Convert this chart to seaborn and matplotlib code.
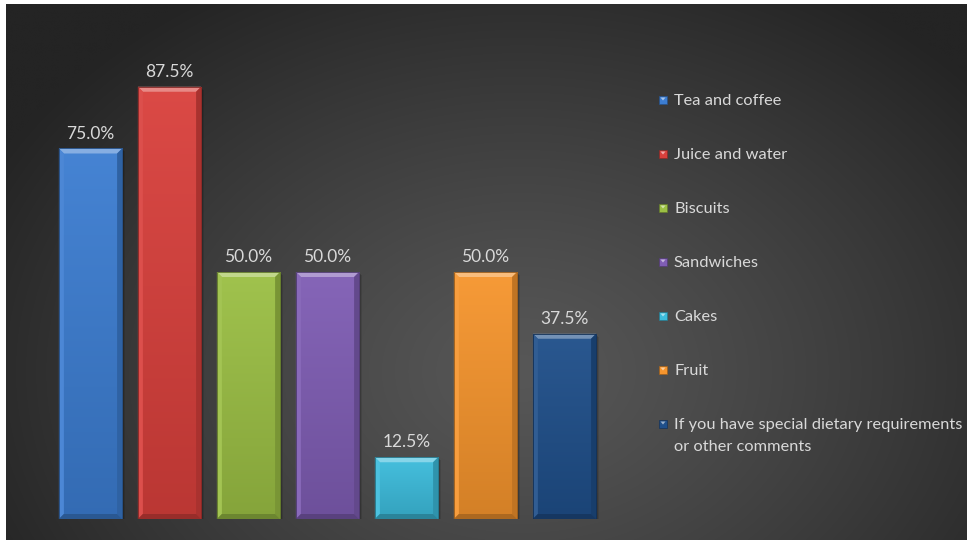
import numpy as np
import pandas as pd
import matplotlib
matplotlib.use("Agg")
import matplotlib.pyplot as plt
import seaborn as sns
from matplotlib.patches import Polygon, Rectangle
from matplotlib.colors import to_rgb

# Survey results: share of respondents choosing each refreshment option
items = [
    "Tea and coffee",
    "Juice and water",
    "Biscuits",
    "Sandwiches",
    "Cakes",
    "Fruit",
    "If you have special dietary requirements\nor other comments",
]
pct = [75.0, 87.5, 50.0, 50.0, 12.5, 50.0, 37.5]
bar_colors = ["#3c7dd1", "#d9403c", "#9bbf44", "#7f5db4", "#3cbcdc", "#f6952d", "#1f4f8a"]

W, H, DPI = 969, 540, 100
TEXT = "#d9d9d9"

sns.set_theme(style="white")
plt.rcParams["font.family"] = ["Lato", "DejaVu Sans"]


def mix(c, other, a):
    c = np.array(to_rgb(c))
    o = np.array(to_rgb(other))
    return tuple(c + (o - c) * a)


fig = plt.figure(figsize=(W / DPI, H / DPI), dpi=DPI, facecolor="white")

# Dark radial-gradient backdrop with a thin white margin
bg = fig.add_axes([0, 0, 1, 1])
yy, xx = np.mgrid[0:H, 0:W]
r = np.sqrt(((xx - 520) / 600.0) ** 2 + ((yy - 370) / 450.0) ** 2)
t = np.clip(r, 0, 1) ** 1.2
c_in = np.array([0x57] * 3) / 255.0
c_out = np.array([0x24] * 3) / 255.0
img = c_in + (c_out - c_in) * t[..., None]
bg.imshow(img, extent=(6, W - 2, H, 4), aspect="auto", interpolation="bilinear")
bg.set_xlim(0, W)
bg.set_ylim(H, 0)
bg.axis("off")

# Bar chart
ax = fig.add_axes([51 / W, 21 / H, 553 / W, 494 / H])
ax.set_facecolor("none")
df = pd.DataFrame({"item": items, "pct": pct})
sns.barplot(
    data=df, x="item", y="pct", hue="item", order=items, hue_order=items,
    palette=bar_colors, saturation=1, width=0.8, dodge=False, legend=False, ax=ax,
)
ax.set_xlim(-0.5, 6.5)
ax.set_ylim(0, 100)
ax.axis("off")

# pixel -> data unit conversions for the bevel
ux = 7.0 / 553.0
uy = 100.0 / 494.0
bev_x = 5 * ux
bev_y = 5 * uy

for p in list(ax.patches):
    x0, w, h = p.get_x(), p.get_width(), p.get_height()
    if h <= 0:
        continue
    base = p.get_facecolor()[:3]
    p.set_edgecolor(mix(base, "black", 0.35))
    p.set_linewidth(0.6)
    p.set_zorder(3)
    # soft shadow
    for k, a in [(3, 0.10), (2, 0.15), (1, 0.2)]:
        ax.add_patch(Rectangle((x0 + k * ux, -k * uy), w, h, facecolor="black",
                               alpha=a, edgecolor="none", zorder=2))
    # vertical shading inside the bar
    grad = np.linspace(0, 1, 64)[:, None]
    top_c = np.array(mix(base, "white", 0.05))
    bot_c = np.array(mix(base, "black", 0.14))
    shade = top_c + (bot_c - top_c) * grad[..., None]
    shade = np.repeat(shade, 4, axis=1)
    im = ax.imshow(shade, extent=(x0, x0 + w, 0, h), aspect="auto", zorder=3.1,
                   interpolation="bilinear")
    im.set_clip_path(p)
    # bevel faces
    top = Polygon([(x0, h), (x0 + w, h), (x0 + w - bev_x, h - bev_y), (x0 + bev_x, h - bev_y)],
                  closed=True, facecolor=mix(base, "white", 0.38), edgecolor="none", zorder=3.2)
    left = Polygon([(x0, h), (x0 + bev_x, h - bev_y), (x0 + bev_x, bev_y), (x0, 0)],
                   closed=True, facecolor=mix(base, "white", 0.08), edgecolor="none", zorder=3.2)
    right = Polygon([(x0 + w, h), (x0 + w - bev_x, h - bev_y), (x0 + w - bev_x, bev_y), (x0 + w, 0)],
                    closed=True, facecolor=mix(base, "black", 0.22), edgecolor="none", zorder=3.2)
    bottom = Polygon([(x0, 0), (x0 + w, 0), (x0 + w - bev_x, bev_y), (x0 + bev_x, bev_y)],
                     closed=True, facecolor=mix(base, "black", 0.3), edgecolor="none", zorder=3.2)
    for poly in (top, left, right, bottom):
        ax.add_patch(poly)
    ax.add_patch(Rectangle((x0, 0), w, h, facecolor="none",
                           edgecolor=mix(base, "black", 0.4), linewidth=0.6, zorder=3.3))

for cont in ax.containers:
    ax.bar_label(cont, fmt="%.1f%%", padding=5, color=TEXT, fontsize=12.5, zorder=5)

# Legend drawn beside the plot
LEG_FS = 11.8
for i, (lab, col) in enumerate(zip(items, bar_colors)):
    yc = 100 + 54 * i
    sq = 8
    x_l = 659
    fig.patches.append(Rectangle((x_l / W, 1 - (yc + sq / 2) / H), sq / W, sq / H,
                                 transform=fig.transFigure, facecolor=col,
                                 edgecolor=mix(col, "black", 0.35), linewidth=0.5))
    fig.patches.append(Polygon([((x_l + 1.5) / W, 1 - (yc - 2.5) / H),
                                ((x_l + sq - 1.5) / W, 1 - (yc - 2.5) / H),
                                ((x_l + sq / 2) / W, 1 - (yc + 0.5) / H)],
                               closed=True, transform=fig.transFigure,
                               facecolor=mix(col, "white", 0.55), edgecolor="none"))
    for j, line in enumerate(lab.split("\n")):
        fig.text(674 / W, 1 - (yc + 5 + 22 * j) / H, line, color=TEXT, fontsize=LEG_FS,
                 va="baseline", ha="left")

fig.savefig("out.png", dpi=DPI, facecolor="white")
